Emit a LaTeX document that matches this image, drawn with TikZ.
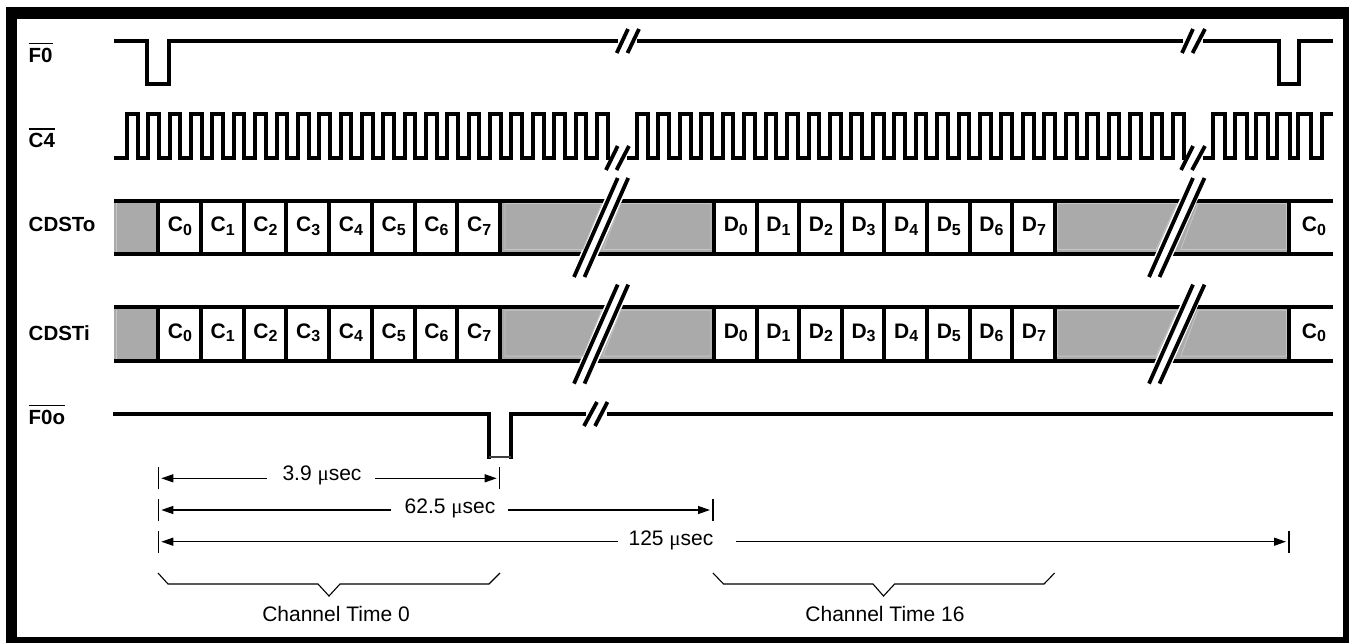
\documentclass[tikz,border=0pt]{standalone}
\usepackage{fontspec}
\setmainfont{Liberation Sans}
\newfontfamily\symfont{Liberation Serif}
\usetikzlibrary{arrows.meta}
\newcommand{\mus}{{\symfont μ}sec}
\newcommand{\celltxt}[2]{#1\raisebox{-3.4pt}{\fontsize{16}{16}\selectfont #2}}
\tikzset{
  sigline/.style={line width=4pt,line join=miter,black},
  endsq/.style={line cap=rect},
  slash/.style={line width=3.8pt,black},
  whiteband/.style={fill=white,draw=white,line width=7pt},
  lightedge/.style={draw=lightgraycol,fill=graycol,line width=.8pt},
  lab/.style={font=\fontsize{20.5}{20.5}\selectfont\bfseries,inner sep=0pt,anchor=base west},
  celllab/.style={font=\fontsize{21}{21}\selectfont\bfseries,inner sep=0pt,anchor=base},
  txt/.style={font=\fontsize{21}{21}\selectfont,inner sep=0pt,anchor=base},
  over/.style={line width=1.5pt,black},
  dimline/.style={line width=1.3pt,black},
  dimarrow/.style={dimline,-{Triangle[length=12pt,width=8pt]},shorten >=3pt},
  tick/.style={line width=1.3pt,black},
  bracket/.style={line width=1.1pt,black,line join=miter},
}
\definecolor{graycol}{HTML}{AAAAAA}
\definecolor{lightgraycol}{HTML}{C6C6C6}
\newcommand{\cdstrow}[2]{%
\begin{scope}[shift={(0,#2)}]
  \fill[graycol] (114,200.7) rectangle (158,254);
  \fill[graycol] (500,200.7) rectangle (714,254);
  \fill[graycol] (1055,200.7) rectangle (1289,254);
  \draw[lightgraycol,line width=.8pt] (116.5,203) -- (116.5,252);
  \draw[sigline] (114,200.7) -- (1333,200.7);
  \draw[sigline] (114,254) -- (1333,254);
  \foreach \xa/\xb in {574/617.7,1149/1193}{
    \path[whiteband] (\xa+10.5,277) -- (\xb+10.5,178) -- (\xb,178) -- (\xa,277) -- cycle;
  }
  \draw[lightedge] (505,203.5) -- (601.7,203.5) -- (583,249.5) -- (505,249.5) -- cycle;
  \draw[lightedge] (620.7,203.5) -- (711,203.5) -- (711,249.5) -- (603,249.5) -- cycle;
  \draw[lightedge] (1057.5,203.5) -- (1177,203.5) -- (1156,249.5) -- (1057.5,249.5) -- cycle;
  \draw[lightedge] (1198,203.5) -- (1286.5,203.5) -- (1286.5,249.5) -- (1180.7,249.5) -- cycle;
  \foreach \k in {0,...,8}{
    \draw[sigline,line cap=rect,line width=4pt] ({158+42.75*\k},201) -- ({158+42.75*\k},254);
    \draw[sigline,line cap=rect,line width=4pt] ({714+42.6*\k},201) -- ({714+42.6*\k},254);
  }
  \draw[sigline,line cap=rect] (1289,201) -- (1289,254);
  \foreach \k in {0,...,7}{
    \node[celllab] (#1C\k) at ({180+42.75*\k},231.7) {\celltxt{C}{\k}};
    \node[celllab] (#1D\k) at ({735.8+42.6*\k},231.7) {\celltxt{D}{\k}};
  }
  \node[celllab] (#1Cend) at (1314,231.7) {\celltxt{C}{0}};
  \draw[slash] (574,277) -- (617.7,178);
  \draw[slash] (584.5,277) -- (628.2,178);
  \draw[slash] (1149,277) -- (1193,178);
  \draw[slash] (1159.5,277) -- (1204.5,178);
\end{scope}}
\begin{document}
\begin{tikzpicture}[x=1pt,y=-1pt]
\useasboundingbox (0,0) rectangle (1349,643);
\fill[white] (0,0) rectangle (1349,643);
\fill[black] (6,7) rectangle (1349,643);
\fill[white] (17,19) rectangle (1343,637);

% labels
\node[lab] (lF) at (28.5,62) {F0};
\draw[over] (lF.west |- 0,43.7) -- (lF.east |- 0,43.7);
\node[lab] (lC) at (28.5,147) {C4};
\draw[over] (lC.west |- 0,129) -- (lC.east |- 0,129);
\node[lab] (lO) at (28.5,231.7) {CDSTo};
\node[lab] (lI) at (28.5,340.7) {CDSTi};
\node[lab] (lFo) at (28.5,424) {F0o};
\draw[over] (lFo.west |- 0,405.7) -- (lFo.east |- 0,405.7);

% F0
\draw[sigline] (114,41) -- (147,41) -- (147,83.5) -- (169,83.5) -- (169,41) -- (618,41);
\draw[sigline] (637,41) -- (1183,41);
\draw[sigline] (1203,41) -- (1279,41) -- (1279,83.5) -- (1299,83.5) -- (1299,41) -- (1333,41);
\draw[slash] (616.7,53) -- (628,29);
\draw[slash] (627.5,53) -- (639,29);
\draw[slash] (1182,53) -- (1193,29);
\draw[slash] (1192.5,53) -- (1205,29);

% C4
\draw[sigline] (114,158) -- (127,158)
  \foreach \i in {1,...,22}{ -- ++(0,-44) -- ++(10.68,0) -- ++(0,44) -- ++(10.68,0)}
  -- ++(0,-44) -- ++(10.68,0) -- ++(0,46);
\draw[sigline] (627,158) -- (637,158)
  \foreach \i in {1,...,25}{ -- ++(0,-44) -- ++(10.72,0) -- ++(0,44) -- ++(10.72,0)}
  -- ++(0,-44) -- ++(11,0) -- ++(0,46);
\draw[sigline] (1203,158) -- (1213,158) -- (1213,114) -- (1225,114) -- (1225,158)
  -- (1235,158) -- (1235,114) -- (1246.7,114) -- (1246.7,158)
  -- (1255.5,158) -- (1255.5,114) -- (1268,114) -- (1268,158)
  -- (1277,158) -- (1277,114) -- (1290,114) -- (1290,158)
  -- (1298,158) -- (1298,114) -- (1311,114) -- (1311,158)
  -- (1322,158) -- (1322,114) -- (1333,114);
\draw[slash] (606,170) -- (617.7,146);
\draw[slash] (616.5,170) -- (629,146);
\draw[slash] (1181,170) -- (1193,146);
\draw[slash] (1192,170) -- (1205,146);

% data rows
\cdstrow{o}{0}
\cdstrow{i}{106.6}

% F0o
\draw[sigline] (113,414) -- (489.3,414) -- (489.3,458.7);
\draw[sigline] (510.7,458.7) -- (510.7,414) -- (586,414);
\draw[sigline] (607,414) -- (1333,414);
\draw[line width=1.4pt,black!75] (489.3,457) -- (510.7,457);
\draw[slash] (584,426) -- (597,402);
\draw[slash] (595,426) -- (607.5,402);

% dimensions
\coordinate (a1) at (158.3,478.3);
\coordinate (b1) at (499.7,478.3);
\coordinate (a2) at (158.3,510);
\coordinate (b2) at (713,510);
\coordinate (a3) at (158.3,541.7);
\coordinate (b3) at (1289,541.7);
\foreach \p in {a1,b1,a2,b2,a3,b3}{
  \draw[tick] ([yshift=-11pt]\p) -- ([yshift=11pt]\p);
}
\node[txt] (d1) at (322,480) {3.9 \mus};
\node[txt] (d2) at (450,513) {62.5 \mus};
\node[txt] (d3) at (671,545) {125 \mus};
\coordinate (d1l) at (267,478.3);
\coordinate (d1r) at (375,478.3);
\coordinate (d2l) at (391,510);
\coordinate (d2r) at (508,510);
\coordinate (d3l) at (618,541.7);
\coordinate (d3r) at (735.5,541.7);
\draw[dimarrow] (d1l) -- (a1);
\draw[dimarrow] (d1r) -- (b1);
\draw[dimarrow] (d2l) -- (a2);
\draw[dimarrow] (d2r) -- (b2);
\draw[dimarrow] (d3l) -- (a3);
\draw[dimarrow] (d3r) -- (b3);

% brackets
\draw[bracket] (158,573) -- (168,584) -- (318,584) -- (329,596) -- (340,584) -- (489,584) -- (500,573);
\draw[bracket] (713,573) -- (723.5,584) -- (873,584) -- (883.5,596) -- (894.6,584) -- (1044,584) -- (1054.6,573);
\node[txt] (ch0) at (336,621.7) {Channel Time 0};
\node[txt] (ch16) at (885,621.7) {Channel Time 16};
\end{tikzpicture}
\end{document}
